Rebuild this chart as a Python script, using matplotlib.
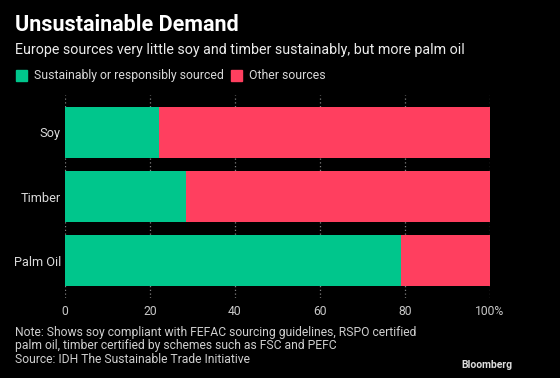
import matplotlib.pyplot as plt
from matplotlib.patches import Rectangle

plt.rcParams["font.family"] = ["Roboto", "DejaVu Sans"]

categories = ["Soy", "Timber", "Palm Oil"]
sustainable = [22, 28.4, 79]
other = [78, 71.6, 21]
xticks = [0, 20, 40, 60, 80, 100]
xtick_labels = ["0", "20", "40", "60", "80", "100%"]

green = "#00c68c"
red = "#ff3f5f"
bg = "black"

fig = plt.figure(figsize=(5.6, 3.78), dpi=100, facecolor=bg)
ax = fig.add_axes([65 / 560, 1 - 298 / 378, 425 / 560, 203 / 378], facecolor=bg)

ypos = list(range(len(categories)))
ax.barh(ypos, sustainable, height=0.79, color=green, zorder=3)
ax.barh(ypos, other, left=sustainable, height=0.79, color=red, zorder=3)

ax.set_xlim(0, 100)
ax.set_ylim(2.58, -0.58)
ax.set_yticks(ypos)
ax.set_yticklabels(categories, color="#d9d9d9", fontsize=9.2)
ax.set_xticks(xticks)
ax.set_xticklabels(xtick_labels, color="#c8c8c8", fontsize=8.7)
ax.tick_params(axis="y", length=0, pad=3)
ax.tick_params(axis="x", length=0, pad=5)
ax.grid(axis="x", color="#808080", linestyle=(0, (1, 2)), linewidth=0.9, zorder=0)
for s in ax.spines.values():
    s.set_visible(False)

fig.text(15 / 560, 1 - 25 / 378, "Unsustainable Demand", color="white",
         fontsize=15.5, fontweight="bold", va="center")
fig.text(15 / 560, 1 - 50 / 378,
         "Europe sources very little soy and timber sustainably, but more palm oil",
         color="#ececec", fontsize=10.3, va="center")

# legend
fig.patches.append(Rectangle((16 / 560, 1 - 81 / 378), 11 / 560, 11 / 378,
                             transform=fig.transFigure, color=green))
fig.text(34 / 560, 1 - 75.5 / 378, "Sustainably or responsibly sourced",
         color="#d9d9d9", fontsize=8.8, va="center")
fig.patches.append(Rectangle((231 / 560, 1 - 81 / 378), 11 / 560, 11 / 378,
                             transform=fig.transFigure, color=red))
fig.text(249 / 560, 1 - 75.5 / 378, "Other sources",
         color="#d9d9d9", fontsize=8.8, va="center")

note = ("Note: Shows soy compliant with FEFAC sourcing guidelines, RSPO certified\n"
        "palm oil, timber certified by schemes such as FSC and PEFC\n"
        "Source: IDH The Sustainable Trade Initiative")
fig.text(15 / 560, 1 - 326 / 378, note, color="#cfcfcf", fontsize=8.7,
         va="top", linespacing=1.05)
fig.text(512 / 560, 1 - 365 / 378, "Bloomberg", color="#dddddd", fontsize=7.5,
         fontweight="bold", ha="right", va="center")

fig.savefig("out.png", dpi=100, facecolor=bg)
